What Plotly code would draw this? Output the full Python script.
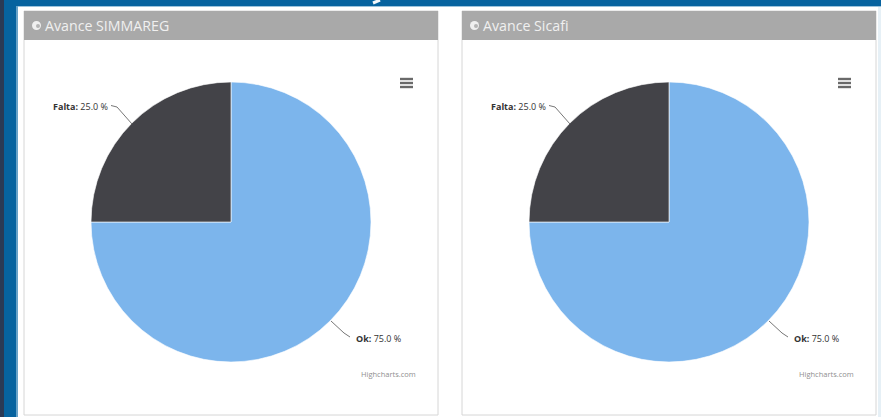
import plotly.graph_objects as go

W, H = 881, 417
slices = ["Ok", "Falta"]
values = [75.0, 25.0]
colors = ["#7cb5ec", "#434348"]
titles = ["Avance SIMMAREG", "Avance Sicafi"]
labels_text = ["Falta:", "25.0 %", "Ok:", "75.0 %"]
credit = "Highcharts.com"

panel_lefts = [24, 462]
panel_w, panel_top, panel_bottom, head_bottom = 414, 11, 415, 40
pie_cx = [231, 669]
pie_cy, pie_r = 222, 140

def xf(x): return x / W
def yf(y): return 1 - y / H

fig = go.Figure()
shapes = []
ann = []

def rect(x0, y0, x1, y1, fill, line=None, layer="below"):
    shapes.append(dict(type="rect", xref="paper", yref="paper", x0=xf(x0), x1=xf(x1),
                       y0=yf(y1), y1=yf(y0), fillcolor=fill, layer=layer,
                       line=dict(color=line or fill, width=1 if line else 0)))

def seg(x0, y0, x1, y1, color="#777777", width=1):
    shapes.append(dict(type="line", xref="paper", yref="paper", x0=xf(x0), x1=xf(x1),
                       y0=yf(y0), y1=yf(y1), line=dict(color=color, width=width), layer="above"))

def text(x, y, s, size, color, anchor="left", family="Open Sans, sans-serif"):
    ann.append(dict(xref="paper", yref="paper", x=xf(x), y=yf(y), text=s, showarrow=False,
                    xanchor=anchor, yanchor="middle", align=anchor,
                    font=dict(size=size, color=color, family=family),
                    borderpad=0, borderwidth=0))

# page background
rect(0, 0, W, H, "#ffffff")
rect(0, 0, W, 6, "#07639f")
rect(0, 6, W, 7, "#9cc3dc")
rect(4, 0, 16, H, "#07639f")
rect(16, 6, 18, H, "#6aa3c8")
rect(0, 0, 4, H, "#2b3a55")
rect(878, 7, W, H, "#e6f0f6")
# white glyph remnant in the page title band
seg(373, 3, 380, 0, "#f4f8fb", 3)

for i in range(2):
    L = panel_lefts[i]
    rect(L, panel_top, L + panel_w, panel_bottom, "#ffffff", "#d6d6d6")
    rect(L, panel_top, L + panel_w, head_bottom, "#a9a9a9")
    # header globe icon + title
    shapes.append(dict(type="circle", xref="paper", yref="paper", x0=xf(L + 8), x1=xf(L + 17),
                       y0=yf(30), y1=yf(21), fillcolor="#f0f0f0", line=dict(width=0), layer="above"))
    shapes.append(dict(type="circle", xref="paper", yref="paper", x0=xf(L + 12), x1=xf(L + 16),
                       y0=yf(28), y1=yf(24), fillcolor="#b5b5b5", line=dict(width=0), layer="above"))
    text(L + 21, 25.5, titles[i], 14.2, "#f0f0f0")
    # hamburger menu
    for dy in (79, 83, 87):
        seg(L + 376, dy, L + 389, dy, "#6a6a6a", 2.4)
    # connectors
    cx = pie_cx[i]
    pts_falta = [(cx - 120, 105.5), (cx - 114, 107), (cx - 99, 124)]
    pts_ok = [(cx + 100, 321), (cx + 113, 333), (cx + 119, 337)]
    for pts in (pts_falta, pts_ok):
        for a, b in zip(pts, pts[1:]):
            seg(a[0], a[1], b[0], b[1])
    # data labels
    text(cx - 178, 106.5, f"<b>{labels_text[0]}</b> {labels_text[1]}", 9, "#333333")
    text(cx + 125, 338, f"<b>{labels_text[2]}</b> {labels_text[3]}", 9, "#333333")
    text(cx + 185, 374, credit, 7.5, "#8f8f8f", anchor="right")

    fig.add_trace(go.Pie(
        labels=slices, values=values, sort=False, direction="clockwise", rotation=0,
        marker=dict(colors=colors, line=dict(color="#ffffff", width=0.6)),
        textinfo="none", hoverinfo="label+percent", showlegend=False,
        domain=dict(x=[xf(cx - pie_r), xf(cx + pie_r)], y=[yf(pie_cy + pie_r), yf(pie_cy - pie_r)]),
    ))

fig.update_layout(width=W, height=H, margin=dict(l=0, r=0, t=0, b=0),
                  paper_bgcolor="#ffffff", plot_bgcolor="#ffffff",
                  shapes=shapes, annotations=ann, showlegend=False)
fig.write_html("out.html", config=dict(displayModeBar=False),
               post_script="document.body.style.margin='0';document.body.style.overflow='hidden';")
